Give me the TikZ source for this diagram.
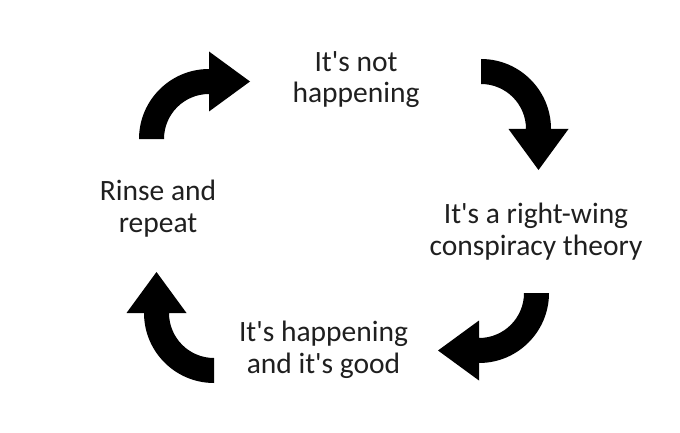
\documentclass[tikz,border=0pt]{standalone}
\usepackage{fontspec}
\setmainfont{Carlito}
\newcommand{\apos}{\textquotesingle}
\tikzset{
  arrowfill/.style={fill=black},
  cyclearrow/.pic={
    \fill[arrowfill] (-70,0) arc[start angle=180,end angle=90,radius=70]
      -- (0,87.5) -- (41,57.5) -- (0,27.5) -- (0,45)
      arc[start angle=90,end angle=180,radius=45] -- cycle;
  },
  label/.style={align=center, anchor=base, inner sep=0pt, text=black!88,
    font=\fontsize{29.5}{31.5}\selectfont}
}
\begin{document}
\begin{tikzpicture}[x=1pt,y=1pt]
\fill[white] (0,0) rectangle (680,432);
\useasboundingbox (0,0) rectangle (680,432);
\pic at (209,293) {cyclearrow};
\pic[rotate=-90] at (481,303) {cyclearrow};
\pic[rotate=180] at (479,139) {cyclearrow};
\pic[rotate=90] at (214,119) {cyclearrow};
\node[label] (n1) at (356,329) {It\apos s not\\happening};
\node[label] (n2) at (536,177) {It\apos s a right-wing\\conspiracy theory};
\node[label] (n3) at (323.5,59) {It\apos s happening\\and it\apos s good};
\node[label] (n4) at (158,200) {Rinse and\\repeat};
\end{tikzpicture}
\end{document}
